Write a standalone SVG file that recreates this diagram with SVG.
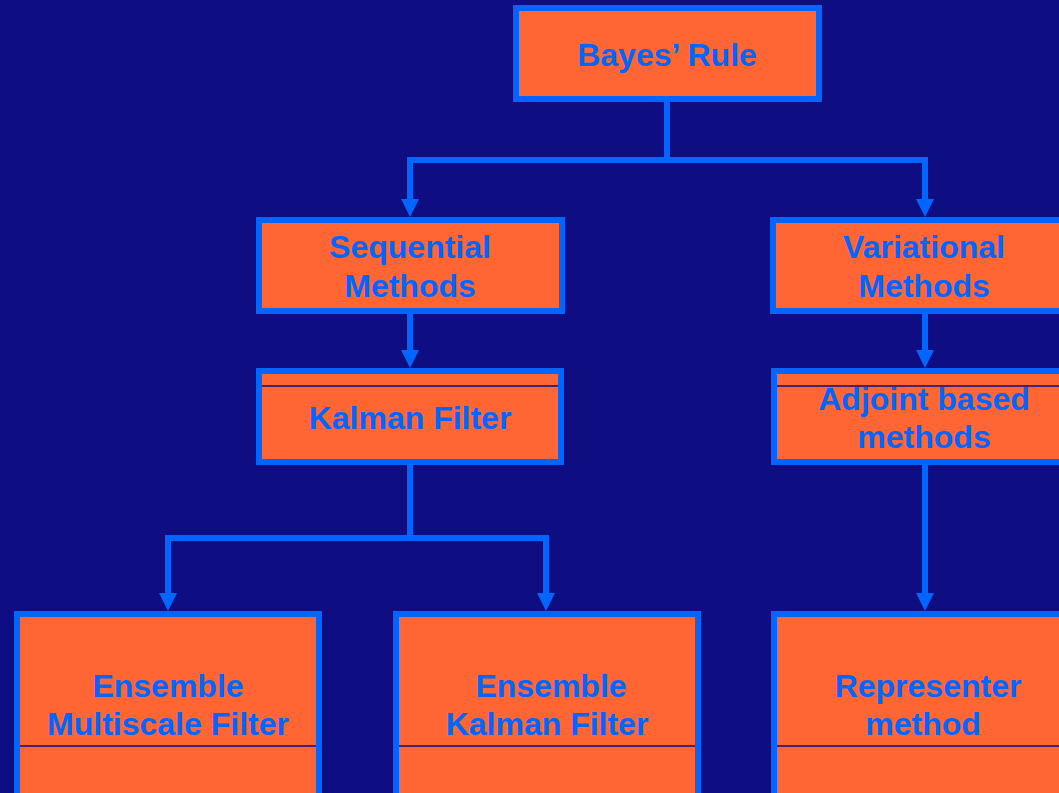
<svg xmlns="http://www.w3.org/2000/svg" width="1059" height="793" viewBox="0 0 1059 793">
<defs>
<style>
.box{fill:#FF6633;stroke:#0066FF;stroke-width:6}
.t{font-family:"Liberation Sans",Arial,sans-serif;font-weight:bold;font-size:32px;fill:#0066FF;text-anchor:middle}
.sep{stroke:#0D0D80;stroke-width:1.5}
.c{fill:none;stroke:#0066FF;stroke-width:6}
.ah{fill:#0066FF}
</style>
</defs>
<rect width="1059" height="793" fill="#0E0E82"/>
<g id="connectors">
<path class="c" d="M667,102 V160 H410 V199" />
<path class="c" d="M667,160 H925 V199" />
<path class="ah" d="M401,199 L419,199 L410,217 Z"/>
<path class="ah" d="M916,199 L934,199 L925,217 Z"/>
<path class="c" d="M410,314 V350"/>
<path class="ah" d="M401,350 L419,350 L410,368 Z"/>
<path class="c" d="M925,314 V350"/>
<path class="ah" d="M916,350 L934,350 L925,368 Z"/>
<path class="c" d="M410,465 V538 H168 V593"/>
<path class="c" d="M410,538 H546 V593"/>
<path class="ah" d="M159,593 L177,593 L168,611 Z"/>
<path class="ah" d="M537,593 L555,593 L546,611 Z"/>
<path class="c" d="M925,465 V593"/>
<path class="ah" d="M916,593 L934,593 L925,611 Z"/>
</g>
<g id="bayes">
<rect class="box" x="516" y="8" width="303" height="91"/>
<text class="t" x="667" y="66">Bayes’ Rule</text>
</g>
<g id="sequential">
<rect class="box" x="259" y="220" width="303" height="91"/>
<text class="t" x="410" y="258">Sequential</text>
<text class="t" x="410" y="297">Methods</text>
</g>
<g id="variational">
<rect class="box" x="773" y="220" width="303" height="91"/>
<text class="t" x="924" y="258">Variational</text>
<text class="t" x="924" y="297">Methods</text>
</g>
<g id="kalman">
<rect class="box" x="259" y="371" width="302" height="91"/>
<line class="sep" x1="262" y1="386" x2="558" y2="386"/>
<text class="t" x="410" y="429">Kalman Filter</text>
</g>
<g id="adjoint">
<rect class="box" x="774" y="371" width="303" height="91"/>
<line class="sep" x1="777" y1="386" x2="1059" y2="386"/>
<text class="t" x="924" y="410">Adjoint based</text>
<text class="t" x="924" y="448">methods</text>
</g>
<g id="ensemble-multiscale">
<rect class="box" x="17" y="614" width="302" height="240"/>
<line class="sep" x1="20" y1="746" x2="316" y2="746"/>
<text class="t" x="168" y="697">Ensemble</text>
<text class="t" x="168" y="735">Multiscale Filter</text>
</g>
<g id="ensemble-kalman">
<rect class="box" x="396" y="614" width="302" height="240"/>
<line class="sep" x1="399" y1="746" x2="695" y2="746"/>
<text class="t" x="551" y="697">Ensemble</text>
<text class="t" x="547" y="735">Kalman Filter</text>
</g>
<g id="representer">
<rect class="box" x="774" y="614" width="303" height="240"/>
<line class="sep" x1="777" y1="746" x2="1059" y2="746"/>
<text class="t" x="928" y="697">Representer</text>
<text class="t" x="923" y="735">method</text>
</g>
</svg>
